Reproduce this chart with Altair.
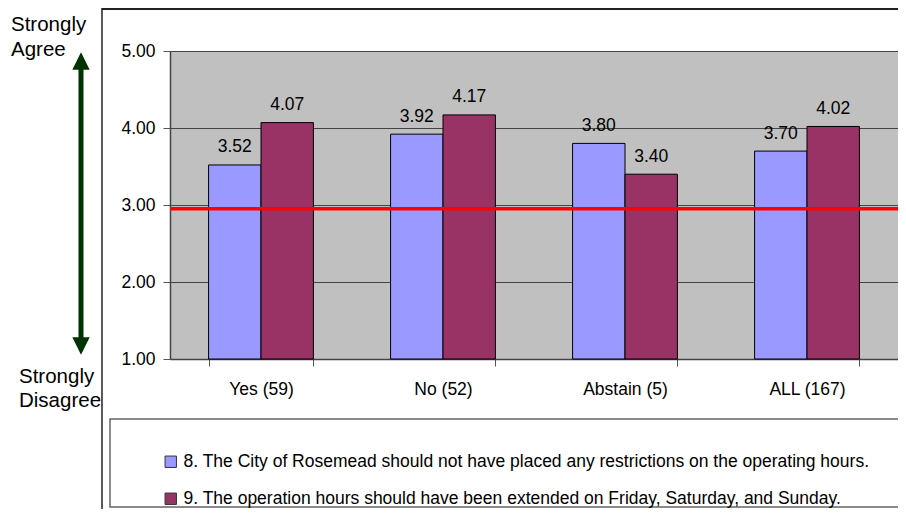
import altair as alt
import pandas as pd

# ---- data ----
categories = ["Yes (59)", "No (52)", "Abstain (5)", "ALL (167)"]
series_names = [
    "8. The City of Rosemead should not have placed any restrictions on the operating hours.",
    "9. The operation hours should have been extended on Friday, Saturday, and Sunday.",
]
q8_values = [3.52, 3.92, 3.80, 3.70]
q9_values = [4.07, 4.17, 3.40, 4.02]
neutral_line = [2.95]
y_ticks = [1, 2, 3, 4, 5]
series_colors = ["#9999FF", "#993366"]
top_note = ["Strongly", "Agree"]
bottom_note = ["Strongly", "Disagree"]

rows = []
for name, vals in zip(series_names, [q8_values, q9_values]):
    for cat, v in zip(categories, vals):
        rows.append({"group": cat, "series": name, "value": v})
df = pd.DataFrame(rows)

FONT = "Liberation Sans"
W, H = 728, 308
FS = 17.5

x_enc = alt.X(
    "group:N",
    sort=categories,
    scale=alt.Scale(paddingInner=0.424, paddingOuter=0.212),
    axis=alt.Axis(
        title=None, labelAngle=0, tickBand="extent", ticks=True, tickSize=7,
        tickColor="#555555", domainColor="#444444", domainWidth=1.5,
        labelFont=FONT, labelFontSize=FS, labelColor="black", labelPadding=14,
        grid=False,
    ),
)
xo_enc = alt.XOffset("series:N", sort=series_names,
                     scale=alt.Scale(paddingInner=0, paddingOuter=0))
y_enc = alt.Y(
    "value:Q",
    scale=alt.Scale(domain=[1, 5], zero=False, nice=False),
    axis=alt.Axis(
        values=y_ticks, format=".2f", title=None, grid=True,
        gridColor="#444444", gridWidth=1, tickSize=7, tickColor="#555555",
        domainColor="#444444", domainWidth=1.5, labelFont=FONT,
        labelFontSize=FS, labelColor="black", labelPadding=8,
    ),
)

base = alt.Chart(df).encode(x=x_enc, xOffset=xo_enc, y=y_enc)

bars = base.mark_bar(stroke="black", strokeWidth=1).encode(
    y2=alt.datum(1),
    color=alt.Color(
        "series:N",
        sort=series_names,
        scale=alt.Scale(domain=series_names, range=series_colors),
        legend=alt.Legend(
            title=None, orient="none", legendX=-8, legendY=402,
            direction="vertical", labelFont=FONT, labelFontSize=FS,
            labelColor="black", labelLimit=900, symbolType="square",
            symbolSize=130, symbolStrokeColor="#333333", symbolStrokeWidth=1,
            rowPadding=18, labelOffset=4,
        ),
    ),
)

value_labels = base.mark_text(
    dy=-12.5, baseline="alphabetic", fontSize=FS, font=FONT, color="black"
).encode(text=alt.Text("value:Q", format=".2f"))

red_line = alt.Chart(pd.DataFrame({"value": neutral_line})).mark_rule(
    color="#FF0000", strokeWidth=3.5
).encode(y=alt.Y("value:Q", title=None))

dummy = pd.DataFrame({"d": [0]})

legend_box = alt.Chart(dummy).mark_rect(
    fill="white", stroke="#666666", strokeWidth=1.5
).encode(x=alt.value(-60), x2=alt.value(W + 10), y=alt.value(368), y2=alt.value(456))

frame_left = alt.Chart(dummy).mark_rule(color="#222222", strokeWidth=1.5).encode(
    x=alt.value(-68), y=alt.value(-43), y2=alt.value(470)
)
frame_top = alt.Chart(dummy).mark_rule(color="#222222", strokeWidth=2).encode(
    x=alt.value(-68), x2=alt.value(W + 10), y=alt.value(-42)
)

ARROW = "#003300"
shaft = alt.Chart(dummy).mark_rule(color=ARROW, strokeWidth=5).encode(
    x=alt.value(-89), y=alt.value(17), y2=alt.value(288)
)
head_up = alt.Chart(dummy).mark_point(
    shape="M-1,1L1,1L0,-1Z", filled=True, color=ARROW, opacity=1, size=300
).encode(x=alt.value(-89), y=alt.value(10))
head_down = alt.Chart(dummy).mark_point(
    shape="M-1,-1L1,-1L0,1Z", filled=True, color=ARROW, opacity=1, size=300
).encode(x=alt.value(-89), y=alt.value(295))

def note(txt, x, y):
    return alt.Chart(dummy).mark_text(
        text=txt, align="left", baseline="alphabetic", fontSize=20.5,
        font=FONT, color="black"
    ).encode(x=alt.value(x), y=alt.value(y))

notes = [
    note(top_note[0], -159, -20),
    note(top_note[1], -159, 5),
    note(bottom_note[0], -151, 332),
    note(bottom_note[1], -151, 356),
]

chart = alt.layer(
    legend_box, frame_left, frame_top, bars, red_line, value_labels,
    shaft, head_up, head_down, *notes,
).properties(
    width=W, height=H,
    autosize=alt.AutoSizeParams(type="none"),
    padding={"left": 162, "top": 43, "right": 0, "bottom": 150},
    background="white",
).configure_view(fill="#C0C0C0", stroke=None)

chart.save("out.html", embed_options={"renderer": "svg", "actions": False})
